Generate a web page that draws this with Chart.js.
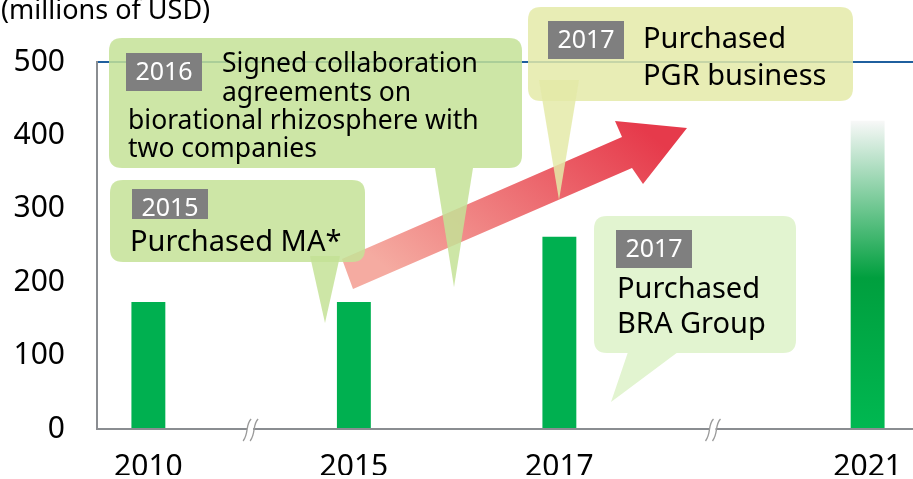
<!DOCTYPE html>
<html>
<head>
<meta charset="utf-8">
<script src="https://cdn.jsdelivr.net/npm/chart.js@4"></script>
<style>
  body { margin: 0; background: #fff; overflow: hidden; }
  #wrap { width: 920px; height: 479px; }
</style>
</head>
<body>
<div id="wrap"><canvas id="salesChart" width="920" height="479"></canvas></div>
<script>
// data
const categories = ['2010', '', '2015', '', '2017', '', '', '2021'];
const sales = [173, null, 173, null, 262, null, null, 420];
const yTicks = [0, 100, 200, 300, 400, 500];
const targetYear = '2021';
const axisBreaks = [1, 5.5]; // category positions of the "//" marks

const FONT = 'Noto Sans';

// callout boxes (text + placement)
const callouts = [
    {
        box: [109, 38, 522, 168], fill: 'rgba(196,226,150,0.85)',
        tail: [[435, 168], [473, 168], [454, 287]],
        tag: { x: 126, y: 53, w: 76, h: 38, text: '2016' },
        size: 26.5,
        lines: [
            { t: 'Signed collaboration', x: 222, y: 72 },
            { t: 'agreements on', x: 222, y: 101 },
            { t: 'biorational rhizosphere with', x: 128, y: 129 },
            { t: 'two companies', x: 128, y: 157 }
        ]
    },
    {
        box: [110, 180, 365, 262], fill: 'rgba(196,226,150,0.85)',
        tail: [[310, 256], [340, 256], [325, 323]],
        tag: { x: 132, y: 189, w: 76, h: 30, text: '2015' },
        size: 29,
        lines: [{ t: 'Purchased MA*', x: 130, y: 251 }]
    },
    {
        box: [528, 7, 853, 101], fill: 'rgba(228,234,168,0.85)',
        tail: [[539, 80], [579, 80], [559, 200]],
        tag: { x: 548, y: 21, w: 76, h: 38, text: '2017' },
        size: 29,
        lines: [
            { t: 'Purchased', x: 643, y: 48 },
            { t: 'PGR business', x: 643, y: 85 }
        ]
    },
    {
        box: [594, 216, 796, 353], fill: '#e2f4d0',
        tail: [[628, 352], [678, 352], [611, 402]],
        tag: { x: 616, y: 230, w: 76, h: 38, text: '2017' },
        size: 29,
        lines: [
            { t: 'Purchased', x: 617, y: 298 },
            { t: 'BRA Group', x: 617, y: 333 }
        ]
    }
];

function roundRect(ctx, x1, y1, x2, y2, r) {
    ctx.beginPath();
    ctx.moveTo(x1 + r, y1);
    ctx.lineTo(x2 - r, y1);
    ctx.quadraticCurveTo(x2, y1, x2, y1 + r);
    ctx.lineTo(x2, y2 - r);
    ctx.quadraticCurveTo(x2, y2, x2 - r, y2);
    ctx.lineTo(x1 + r, y2);
    ctx.quadraticCurveTo(x1, y2, x1, y2 - r);
    ctx.lineTo(x1, y1 + r);
    ctx.quadraticCurveTo(x1, y1, x1 + r, y1);
    ctx.closePath();
}

function drawArrow(ctx) {
    const pts = [[342, 259], [622, 137], [615, 121], [687, 128], [643, 184], [632, 168], [353, 289]];
    const g = ctx.createLinearGradient(620, 110, 450, 320);
    g.addColorStop(0, '#e63a4b');
    g.addColorStop(1, '#f5aba1');
    ctx.beginPath();
    ctx.moveTo(pts[0][0], pts[0][1]);
    pts.slice(1).forEach(p => ctx.lineTo(p[0], p[1]));
    ctx.closePath();
    ctx.fillStyle = g;
    ctx.fill();
}

function drawCallout(ctx, c) {
    ctx.fillStyle = c.fill;
    roundRect(ctx, c.box[0], c.box[1], c.box[2], c.box[3], 13);
    ctx.fill();
    ctx.beginPath();
    ctx.moveTo(c.tail[0][0], c.tail[0][1]);
    ctx.lineTo(c.tail[2][0], c.tail[2][1]);
    ctx.lineTo(c.tail[1][0], c.tail[1][1]);
    ctx.closePath();
    ctx.fill();

    // year tag
    ctx.fillStyle = '#7f7f7f';
    ctx.fillRect(c.tag.x, c.tag.y, c.tag.w, c.tag.h);
    ctx.fillStyle = '#fff';
    ctx.font = '25px "' + FONT + '"';
    ctx.textAlign = 'center';
    ctx.textBaseline = 'alphabetic';
    ctx.fillText(c.tag.text, c.tag.x + c.tag.w / 2, c.tag.y + 26.5);

    ctx.fillStyle = '#000';
    ctx.textAlign = 'left';
    ctx.font = c.size + 'px "' + FONT + '"';
    c.lines.forEach(l => ctx.fillText(l.t, l.x, l.y));
}

const decorPlugin = {
    id: 'decor',
    afterDraw(chart) {
        const ctx = chart.ctx;
        const x = chart.scales.x;
        const bottom = chart.chartArea.bottom;
        ctx.save();

        // axis break marks
        ctx.strokeStyle = '#9a9a9a';
        ctx.lineWidth = 1.3;
        axisBreaks.forEach(pos => {
            const bx = pos % 1 === 0 ? x.getPixelForValue(pos)
                : (x.getPixelForValue(Math.floor(pos)) + x.getPixelForValue(Math.ceil(pos))) / 2;
            ctx.fillStyle = '#fff';
            ctx.fillRect(bx - 4, bottom - 2, 6, 4);
            [-4, 3].forEach(off => {
                ctx.beginPath();
                ctx.moveTo(bx + off + 4, bottom - 10);
                ctx.bezierCurveTo(bx + off - 2, bottom - 4, bx + off + 2, bottom + 4, bx + off - 4, bottom + 12);
                ctx.stroke();
            });
        });

        drawArrow(ctx);
        callouts.forEach(c => drawCallout(ctx, c));

        // unit label
        ctx.fillStyle = '#000';
        ctx.font = '27px "' + FONT + '"';
        ctx.textAlign = 'left';
        ctx.textBaseline = 'alphabetic';
        ctx.fillText('(millions of USD)', 1, 19);
        ctx.restore();
    }
};

function barColor(context) {
    const chart = context.chart;
    if (categories[context.dataIndex] !== targetYear || !chart.chartArea) return '#00b050';
    const y = chart.scales.y;
    const top = y.getPixelForValue(context.raw);
    const g = chart.ctx.createLinearGradient(0, top, 0, y.getPixelForValue(0));
    g.addColorStop(0, '#f8f8f8');
    g.addColorStop(0.51, '#009f3e');
    g.addColorStop(1, '#00b851');
    return g;
}

new Chart(document.getElementById('salesChart'), {
    type: 'bar',
    data: {
        labels: categories,
        datasets: [{
            data: sales,
            backgroundColor: barColor,
            borderWidth: 0,
            barPercentage: 0.33,
            categoryPercentage: 1
        }]
    },
    options: {
        responsive: false,
        animation: false,
        layout: { padding: { top: 62, right: 1, bottom: 0, left: 0 } },
        plugins: {
            legend: { display: false },
            tooltip: { enabled: false }
        },
        scales: {
            x: {
                grid: { display: false },
                border: { display: true, color: '#8a8d91', width: 2 },
                ticks: {
                    color: '#000',
                    font: { family: FONT, size: 30 },
                    padding: 12,
                    autoSkip: false,
                    maxRotation: 0
                },
                afterFit: scale => { scale.height = 46; }
            },
            y: {
                min: yTicks[0],
                max: yTicks[yTicks.length - 1],
                afterBuildTicks: scale => { scale.ticks = yTicks.map(v => ({ value: v })); },
                grid: {
                    drawTicks: false,
                    lineWidth: 2,
                    color: ctx => ctx.tick && ctx.tick.value === 500 ? '#1f5f9e' : 'rgba(0,0,0,0)'
                },
                border: { display: true, color: '#8a8d91', width: 2 },
                ticks: {
                    color: '#000',
                    font: { family: FONT, size: 30 },
                    padding: 32
                },
                afterFit: scale => { scale.width = 97; }
            }
        }
    },
    plugins: [decorPlugin]
});
</script>
</body>
</html>
